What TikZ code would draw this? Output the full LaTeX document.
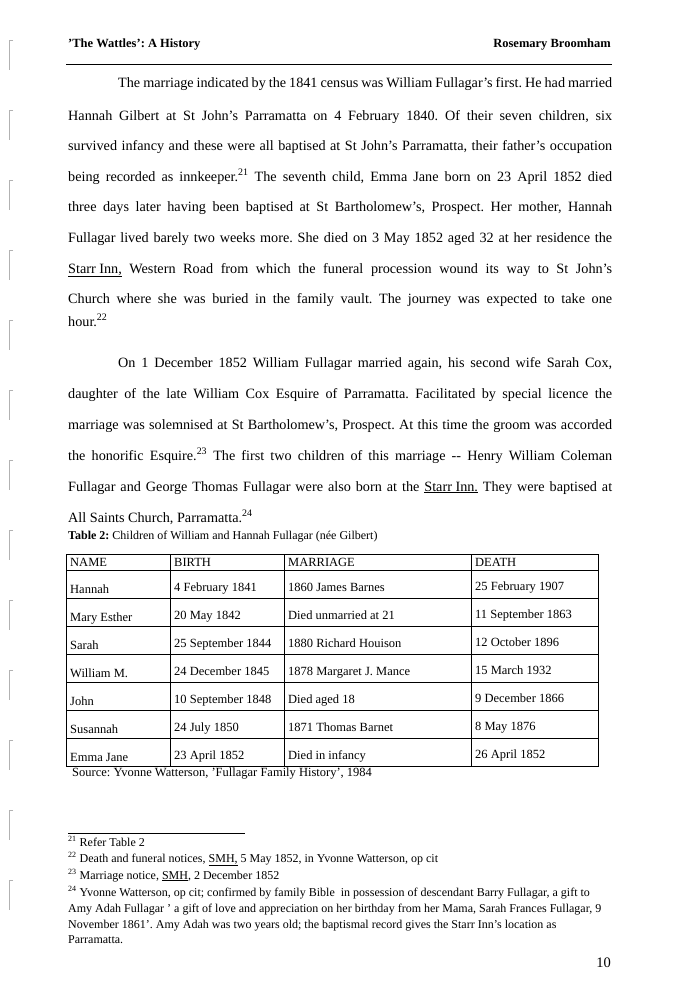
\documentclass[tikz,border=0pt]{standalone}
\usepackage{fontspec}
\setmainfont{Liberation Serif}
\usetikzlibrary{positioning}
\frenchspacing
\newcommand{\fn}[1]{\textsuperscript{#1}}
\newcommand{\jline}[1]{\makebox[544pt][s]{#1}}
\tikzset{
  body/.style={anchor=base west, inner sep=0pt, font=\fontsize{14.2}{16}\selectfont},
  cell/.style={anchor=base west, inner sep=0pt, font=\fontsize{12.5}{14}\selectfont},
  note/.style={anchor=base west, inner sep=0pt, font=\fontsize{12}{14}\selectfont},
  rim/.style={gray!60, line width=0.8pt}
}
\begin{document}
\begin{tikzpicture}[x=1pt, y=-1pt]
  \useasboundingbox (0,0) rectangle (694,990);
  \fill[white] (0,0) rectangle (694,990);

  % binding marks on the left edge
  \foreach \y in {40,110,180,250,320,390,460,530,600,670,740,810,880} {
    \draw[rim] (13,\y) -- (9,\y) -- (9,\y+30);
  }

  % header
  \node[body, font=\fontsize{12.5}{14}\selectfont\bfseries] (head) at (68,48) {'The Wattles': A History};
  \node[anchor=base east, inner sep=0pt, font=\fontsize{12.5}{14}\selectfont\bfseries] (author) at (611,48) {Rosemary Broomham};
  \draw[line width=1pt] (66,65) -- (612,65);

  % first paragraph
  \node[body] (p1) at (118,88) {\makebox[494pt][s]{The marriage indicated by the 1841 census was William Fullagar's first. He had married}};
  \node[body] (p2) at (68,120) {\jline{Hannah Gilbert at St John's Parramatta on 4 February 1840. Of their seven children, six}};
  \node[body] (p3) at (68,150) {\jline{survived infancy and these were all baptised at St John's Parramatta, their father's occupation}};
  \node[body] (p4) at (68,181) {\jline{being recorded as innkeeper.\fn{21} The seventh child, Emma Jane born on 23 April 1852 died}};
  \node[body] (p5) at (68,211) {\jline{three days later having been baptised at St Bartholomew's, Prospect. Her mother, Hannah}};
  \node[body] (p6) at (68,242) {\jline{Fullagar lived barely two weeks more. She died on 3 May 1852 aged 32 at her residence the}};
  \node[body] (p7) at (68,273) {\jline{\underline{Starr Inn,} Western Road from which the funeral procession wound its way to St John's}};
  \node[body] (p8) at (68,303) {\jline{Church where she was buried in the family vault. The journey was expected to take one}};
  \node[body] (p9) at (68,326) {hour.\fn{22}};

  % second paragraph
  \node[body] (q1) at (118,367) {\makebox[494pt][s]{On 1 December 1852 William Fullagar married again, his second wife Sarah Cox,}};
  \node[body] (q2) at (68,398) {\jline{daughter of the late William Cox Esquire of Parramatta. Facilitated by special licence the}};
  \node[body] (q3) at (68,429) {\jline{marriage was solemnised at St Bartholomew's, Prospect. At this time the groom was accorded}};
  \node[body] (q4) at (68,460) {\jline{the honorific Esquire.\fn{23} The first two children of this marriage {-}{-} Henry William Coleman}};
  \node[body] (q5) at (68,491) {\jline{Fullagar and George Thomas Fullagar were also born at the \underline{Starr Inn.} They were baptised at}};
  \node[body] (q6) at (68,522) {All Saints Church, Parramatta.\fn{24}};

  % table
  \node[note] (caption) at (68,539) {\textbf{Table 2:} Children of William and Hannah Fullagar (née Gilbert)};
  \draw[line width=0.9pt] (66,554) rectangle (598,766);
  \foreach \x in {170,284,471} \draw[line width=0.8pt] (\x,554) -- (\x,766);
  \draw[line width=0.8pt] (66,570) -- (598,570);
  \foreach \y in {598,626,654,682,710,738} \draw[line width=0.8pt] (66,\y) -- (598,\y);
  \node[cell] (h1) at (70,566) {NAME};
  \node[cell] (h2) at (174,566) {BIRTH};
  \node[cell] (h3) at (288,566) {MARRIAGE};
  \node[cell] (h4) at (475,566) {DEATH};
  \foreach \a/\b/\c/\d [count=\i] in {
      Hannah/4 February 1841/1860 James Barnes/25 February 1907,
      Mary Esther/20 May 1842/Died unmarried at 21/11 September 1863,
      Sarah/25 September 1844/1880 Richard Houison/12 October 1896,
      William M./24 December 1845/1878 Margaret J. Mance/15 March 1932,
      John/10 September 1848/Died aged 18/9 December 1866,
      Susannah/24 July 1850/1871 Thomas Barnet/8 May 1876,
      Emma Jane/23 April 1852/Died in infancy/26 April 1852} {
    \node[cell] (n\i) at (70,565+28*\i) {\a};
    \node[cell] (b\i) at (174,563+28*\i) {\b};
    \node[cell] (m\i) at (288,563+28*\i) {\c};
    \node[cell] (d\i) at (475,562+28*\i) {\d};
  }
  \node[note, font=\fontsize{12.5}{14}\selectfont] (source) at (72,776) {Source: Yvonne Watterson, 'Fullagar Family History', 1984};

  % footnotes
  \draw[line width=0.8pt] (68,833) -- (245,833);
  \node[note] (f21) at (68,846) {\fn{21} Refer Table 2};
  \node[note] (f22) at (68,862) {\fn{22} Death and funeral notices, \underline{SMH,} 5 May 1852, in Yvonne Watterson, op cit};
  \node[note] (f23) at (68,879) {\fn{23} Marriage notice, \underline{SMH}, 2 December 1852};
  \node[note] (f24) at (68,896) {\fn{24} Yvonne Watterson, op cit; confirmed by family Bible\ \ in possession of descendant Barry Fullagar, a gift to};
  \node[note] (f24b) at (68,912) {Amy Adah Fullagar ' a gift of love and appreciation on her birthday from her Mama, Sarah Frances Fullagar, 9};
  \node[note] (f24c) at (68,928) {November 1861'. Amy Adah was two years old; the baptismal record gives the Starr Inn's location as};
  \node[note] (f24d) at (68,943) {Parramatta.};
  \node[anchor=base east, inner sep=0pt, font=\fontsize{14.5}{16}\selectfont] (page) at (611,967) {10};
\end{tikzpicture}
\end{document}
